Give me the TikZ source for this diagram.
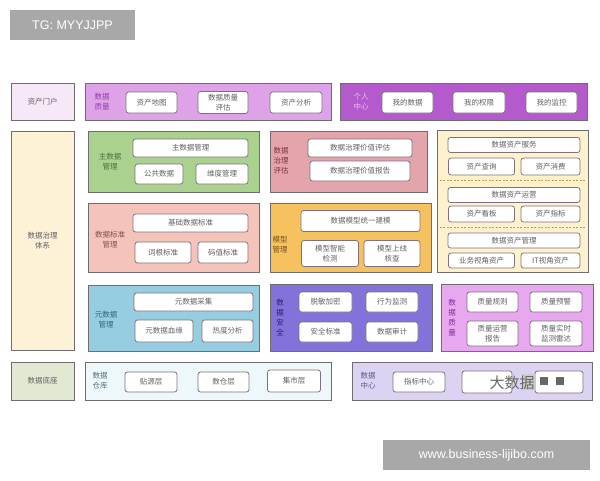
\documentclass[tikz,border=0pt]{standalone}
\usepackage{fontspec}
\setmainfont{Liberation Sans}
\newfontfamily\cjk{Noto Sans CJK SC}
\definecolor{bannerGray}{RGB}{168, 168, 168}
\definecolor{frameGray}{RGB}{112, 108, 112}
\definecolor{itemGray}{RGB}{128, 112, 124}
\definecolor{textGray}{RGB}{100, 96, 100}
\definecolor{portalPink}{RGB}{247, 232, 248}
\definecolor{lilac}{RGB}{222, 162, 232}
\definecolor{lilacDark}{RGB}{150, 60, 170}
\definecolor{purpleMid}{RGB}{180, 90, 204}
\definecolor{purpleLight}{RGB}{236, 190, 244}
\definecolor{govCream}{RGB}{253, 241, 214}
\definecolor{masterGreen}{RGB}{170, 209, 142}
\definecolor{masterDark}{RGB}{80, 110, 60}
\definecolor{stdSalmon}{RGB}{244, 196, 186}
\definecolor{stdDark}{RGB}{130, 80, 72}
\definecolor{metaBlue}{RGB}{150, 205, 224}
\definecolor{metaDark}{RGB}{50, 100, 125}
\definecolor{evalRose}{RGB}{228, 164, 172}
\definecolor{evalDark}{RGB}{130, 50, 65}
\definecolor{modelOrange}{RGB}{246, 194, 96}
\definecolor{modelDark}{RGB}{120, 80, 20}
\definecolor{secViolet}{RGB}{130, 114, 218}
\definecolor{secDark}{RGB}{40, 30, 110}
\definecolor{assetYellow}{RGB}{253, 242, 205}
\definecolor{sepGold}{RGB}{200, 160, 70}
\definecolor{dqPink}{RGB}{232, 168, 240}
\definecolor{dqDark}{RGB}{130, 40, 150}
\definecolor{baseGreen}{RGB}{226, 233, 211}
\definecolor{whCyan}{RGB}{238, 248, 250}
\definecolor{whDark}{RGB}{80, 110, 125}
\definecolor{centerLav}{RGB}{220, 211, 242}
\definecolor{centerDark}{RGB}{100, 85, 145}
\begin{document}
\begin{tikzpicture}[
    x=1pt, y=-1pt,
    font=\cjk\fontsize{7.5}{10}\selectfont,
    % Estilo base para paneles
    panel/.style={
        draw=frameGray,
        fill=#1,
        line width=0.9pt,
        inner sep=0pt
    },
    % Estilo para cajas internas
    item/.style={
        draw=itemGray,
        fill=white,
        rounded corners=2.5pt,
        line width=0.8pt,
        align=center,
        text=textGray,
        inner sep=0pt
    },
    % Tamaño de caja
    sz/.style 2 args={minimum width=#1, minimum height=#2},
    % Etiquetas de panel
    tag/.style={align=center, text=#1, inner sep=0pt},
    % Marcas de agua
    banner/.style={
        fill=bannerGray,
        text=white,
        inner sep=0pt,
        font=\rmfamily\fontsize{12.5}{14}\selectfont
    },
    % Separador punteado
    sepline/.style={
        draw=sepGold,
        line width=1pt,
        dash pattern=on 2pt off 1.5pt,
        shorten <=3pt, shorten >=3pt
    }
]
    \useasboundingbox (0,0) rectangle (600,480);

    % --- 1. Marcas de agua ---
    \node[banner, sz={125}{30}] (tg) at (72.5,25) {TG: MYYJJPP};
    \node[banner, sz={207}{30}] (site) at (486.5,455) {www.business-lijibo.com};

    % --- 2. Fila superior ---
    \node[panel=portalPink, sz={63}{37}, text=textGray] (portal) at (42.5,101.5) {资产门户};

    \node[panel=lilac, sz={246}{37}] (dq_top) at (208,101.5) {};
    \node[tag=lilacDark] (dq_top_lbl) at (102,101.5) {数据\\质量};
    \node[item, sz={51}{21}] (asset_map) at (151.5,102.5) {资产地图};
    \node[item, sz={50}{22}] (dq_eval) at (223,102.5) {数据质量\\评估};
    \node[item, sz={52}{21}] (asset_ana) at (296,102.5) {资产分析};

    \node[panel=purpleMid, sz={247}{37}] (personal) at (463.5,101.5) {};
    \node[tag=purpleLight] (personal_lbl) at (361,101.5) {个人\\中心};
    \node[item, sz={51}{21}] (my_data) at (407.5,102.5) {我的数据};
    \node[item, sz={52}{21}] (my_auth) at (479,102.5) {我的权限};
    \node[item, sz={51}{21}] (my_mon) at (551.5,102.5) {我的监控};

    % --- 3. Bloque central ---
    \node[panel=govCream, sz={63}{219}, text=textGray, align=center] (gov) at (42.5,240.5) {数据治理\\体系};

    % Columna izquierda
    \node[panel=masterGreen, sz={171}{61}] (master) at (173.5,161.5) {};
    \node[tag=masterDark] (master_lbl) at (110,162) {主数据\\管理};
    \node[item, sz={115}{18}] (master_item) at (190.5,148) {主数据管理};
    \node[item, sz={48}{20}] (public) at (159,174) {公共数据};
    \node[item, sz={52}{20}] (dim) at (222,174) {维度管理};

    \node[panel=stdSalmon, sz={171}{69}] (std) at (173.5,237.5) {};
    \node[tag=stdDark] (std_lbl) at (110,240) {数据标准\\管理};
    \node[item, sz={115}{18}] (base_std) at (190.5,223) {基础数据标准};
    \node[item, sz={56}{21}] (root_std) at (163,252.5) {词根标准};
    \node[item, sz={50}{21}] (code_std) at (223,252.5) {码值标准};

    \node[panel=metaBlue, sz={171}{66}] (meta) at (173.5,318) {};
    \node[tag=metaDark] (meta_lbl) at (106,320) {元数据\\管理};
    \node[item, sz={119}{18}] (meta_coll) at (193.5,302) {元数据采集};
    \node[item, sz={58}{22}] (lineage) at (164,331) {元数据血缘};
    \node[item, sz={51}{22}] (heat) at (227.5,331) {热度分析};

    % Columna media
    \node[panel=evalRose, sz={157}{61}] (eval) at (348.5,161.5) {};
    \node[tag=evalDark] (eval_lbl) at (281,161) {数据\\治理\\评估};
    \node[item, sz={104}{18}] (val_eval) at (360,148) {数据治理价值评估};
    \node[item, sz={100}{20}] (val_rep) at (360,171) {数据治理价值报告};

    \node[panel=modelOrange, sz={161}{69}] (model) at (350.5,237.5) {};
    \node[tag=modelDark] (model_lbl) at (280,245) {模型\\管理};
    \node[item, sz={119}{21}] (unify) at (360.5,221) {数据模型统一建模};
    \node[item, sz={57}{26}] (detect) at (330,253.5) {模型智能\\检测};
    \node[item, sz={56}{26}] (check) at (392,253.5) {模型上线\\核查};

    \node[panel=secViolet, sz={162}{67}] (sec) at (351,317.5) {};
    \node[tag=secDark] (sec_lbl) at (280,318) {数\\据\\安\\全};
    \node[item, sz={53}{20}] (mask) at (325.5,302) {脱敏加密};
    \node[item, sz={52}{20}] (behav) at (392,302) {行为监测};
    \node[item, sz={53}{20}] (sec_std) at (325.5,332) {安全标准};
    \node[item, sz={52}{20}] (audit) at (392,332) {数据审计};

    % Columna derecha
    \node[panel=assetYellow, sz={151}{142}] (asset) at (512.5,201) {};
    \node[item, sz={132}{15}] (svc) at (514,145) {数据资产服务};
    \node[item, sz={66}{17}] (query) at (481.5,166.5) {资产查询};
    \node[item, sz={59}{17}] (consume) at (550.5,166.5) {资产消费};
    \coordinate (sep1) at (512,180.5);
    \node[item, sz={132}{15}] (ops) at (514,195) {数据资产运营};
    \node[item, sz={66}{16}] (board) at (481.5,214) {资产看板};
    \node[item, sz={59}{16}] (index) at (550.5,214) {资产指标};
    \coordinate (sep2) at (512,227);
    \node[item, sz={132}{15}] (mgmt) at (514,240.5) {数据资产管理};
    \node[item, sz={66}{15}] (biz) at (481.5,260.5) {业务视角资产};
    \node[item, sz={59}{15}] (it) at (550.5,260.5) {IT视角资产};
    \draw[sepline] (asset.west |- sep1) -- (asset.east |- sep1);
    \draw[sepline] (asset.west |- sep2) -- (asset.east |- sep2);

    \node[panel=dqPink, sz={152}{67}] (dq) at (517,317.5) {};
    \node[tag=dqDark] (dq_lbl) at (452,318) {数\\据\\质\\量};
    \node[item, sz={51}{20}] (rule) at (492.5,302) {质量规则};
    \node[item, sz={52}{20}] (alarm) at (556,302) {质量预警};
    \node[item, sz={51}{25}] (dq_rep) at (492.5,333.5) {质量运营\\报告};
    \node[item, sz={52}{25}] (radar) at (556,333.5) {质量实时\\监测雷达};

    % --- 4. Fila inferior ---
    \node[panel=baseGreen, sz={63}{38}, text=textGray] (base) at (42.5,381) {数据底座};

    \node[panel=whCyan, sz={246}{38}] (warehouse) at (208,381) {};
    \node[tag=whDark] (warehouse_lbl) at (100,381) {数据\\仓库};
    \node[item, sz={52}{20}] (ods) at (151,382) {贴源层};
    \node[item, sz={51}{20}] (dw) at (223.5,382) {数仓层};
    \node[item, sz={53}{22}] (dm) at (294,381) {集市层};

    \node[panel=centerLav, sz={240}{38}] (dcenter) at (472,381) {};
    \node[tag=centerDark] (dcenter_lbl) at (368,381) {数据\\中心};
    \node[item, sz={52}{20}] (metric) at (419,382) {指标中心};
    \node[item, sz={50}{22}] (blur_a) at (487,382) {};
    \node[item, sz={48}{22}] (blur_b) at (559,382) {};
    \fill[black!20] (522,374) rectangle +(14,16);
    \fill[black!60] (540,377) rectangle +(8,8);
    \fill[black!60] (556,377) rectangle +(8,8);
    \node[text=black!60, font=\cjk\fontsize{15}{15}\selectfont] (wm) at (512,383) {大数据};

\end{tikzpicture}
\end{document}
